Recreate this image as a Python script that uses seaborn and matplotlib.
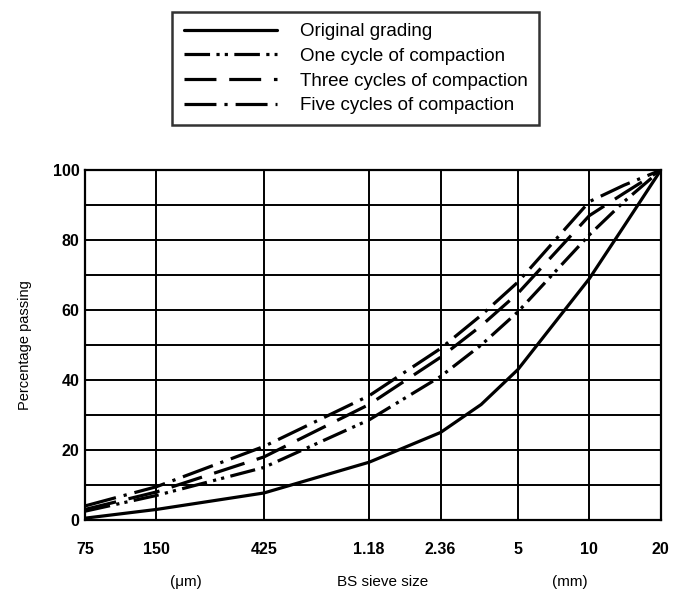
import matplotlib
matplotlib.use("Agg")
import matplotlib.pyplot as plt
import seaborn as sns
import pandas as pd
import numpy as np

# ---- data ----
sieve_mm = [0.075, 0.15, 0.425, 1.18, 2.36, 3.5, 5, 10, 14, 20]
original = [0.5, 3.0, 7.7, 16.5, 25.0, 33.0, 43.0, 69.0, 84.0, 100.0]
one_cycle = [2.5, 7.0, 15.0, 28.6, 41.0, 50.0, 59.5, 81.5, 91.0, 100.0]
three_cycles = [3.0, 8.0, 18.0, 33.0, 46.5, 55.5, 64.8, 87.0, 93.4, 100.0]
five_cycles = [4.0, 9.5, 21.0, 35.5, 49.0, 58.5, 68.0, 91.0, 95.7, 100.0]

series_names = ["Original grading", "One cycle of compaction",
                "Three cycles of compaction", "Five cycles of compaction"]
tick_sizes = [0.075, 0.15, 0.425, 1.18, 2.36, 5, 10, 20]
tick_labels = ["75", "150", "425", "1.18", "2.36", "5", "10", "20"]

frames = []
for name, vals in zip(series_names, [original, one_cycle, three_cycles, five_cycles]):
    frames.append(pd.DataFrame({"size": sieve_mm, "passing": vals, "series": name}))
df = pd.concat(frames, ignore_index=True)

sns.set_style("white")
plt.rcParams["font.family"] = ["Liberation Sans", "DejaVu Sans"]
plt.rcParams["text.color"] = "black"
plt.rcParams["axes.labelcolor"] = "black"
plt.rcParams["legend.labelcolor"] = "black"

fig = plt.figure(figsize=(6.75, 5.99), dpi=100)
ax = fig.add_axes([0.126, 0.132, 0.853, 0.584])

dashes = {
    "Original grading": "",
    "One cycle of compaction": (8, 2, 1, 1.6, 1, 2),
    "Three cycles of compaction": (10, 4),
    "Five cycles of compaction": (10, 2.5, 1, 2.5),
}
palette = {n: "black" for n in series_names}
sns.lineplot(data=df, x="size", y="passing", hue="series", style="series",
             dashes=dashes, palette=palette, hue_order=series_names,
             style_order=series_names, linewidth=2.3, ax=ax, zorder=3,
             legend=True)

ax.set_xscale("log")
ax.set_xlim(0.075, 20)
ax.set_ylim(0, 100)
ax.set_xticks(tick_sizes)
ax.set_xticklabels(tick_labels)
ax.minorticks_off()
ax.set_yticks(np.arange(0, 101, 20))
for xv in tick_sizes:
    ax.axvline(xv, color="black", lw=1.4, zorder=1)
for yv in range(0, 101, 10):
    ax.axhline(yv, color="black", lw=1.4, zorder=1)
for s in ax.spines.values():
    s.set_color("black")
    s.set_linewidth(1.6)
ax.tick_params(axis="both", which="both", length=0, labelsize=11.5, colors="black")
ax.tick_params(axis="x", pad=16)
ax.tick_params(axis="y", pad=4)
for lab in ax.get_xticklabels() + ax.get_yticklabels():
    lab.set_fontweight("bold")
ax.set_xlabel("")
ax.set_ylabel("Percentage passing", fontsize=10.5, labelpad=15, color="black")

fig.text(186 / 675, 1 - 582 / 599, "(μm)", ha="center", va="center", fontsize=11)
fig.text(383 / 675, 1 - 582 / 599, "BS sieve size", ha="center", va="center", fontsize=11)
fig.text(570 / 675, 1 - 582 / 599, "(mm)", ha="center", va="center", fontsize=11)

handles, labels = ax.get_legend_handles_labels()
ax.get_legend().remove()
leg = fig.legend(handles, labels, loc="upper center", bbox_to_anchor=(0.527, 0.98),
                 frameon=True, fancybox=False, edgecolor="black", fontsize=13.5,
                 handlelength=5.0, handletextpad=1.2, labelspacing=0.4,
                 borderpad=0.6, borderaxespad=0)
leg.get_frame().set_linewidth(1.8)
for h in leg.get_lines():
    h.set_linewidth(2.3)
for t in leg.get_texts():
    t.set_color("black")

fig.savefig("out.png", dpi=100)
